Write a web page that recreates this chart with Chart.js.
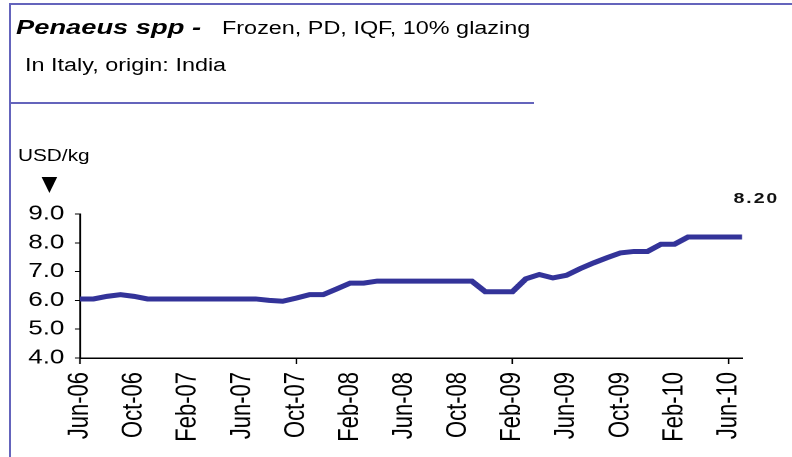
<!DOCTYPE html>
<html>
<head>
<meta charset="utf-8">
<script src="https://cdn.jsdelivr.net/npm/chart.js@4.4.1/dist/chart.umd.min.js"></script>
<style>
    html, body { margin: 0; padding: 0; background: #fff; }
    body { width: 792px; height: 457px; position: relative; overflow: hidden; font-family: "Liberation Sans", Arial, sans-serif; color: #000; }
    /* the original picture is stretched sideways, so the whole panel is drawn narrow and scaled */
    #panel { position: absolute; left: 0; top: 0; width: 609.23px; height: 457px; transform: scaleX(1.3); transform-origin: 0 0; }
    #chartBox { position: absolute; left: 0; top: 0; width: 609.23px; height: 457px; }
    .txt { position: absolute; white-space: nowrap; }
    #title { left: 12.3px; top: 16.2px; font-size: 21px; line-height: 21px; font-weight: bold; font-style: italic; }
    #titleRest { left: 170.8px; top: 18.8px; font-size: 18px; line-height: 18px; }
    #subtitle { left: 19.2px; top: 56.2px; font-size: 18px; line-height: 18px; }
    #unit { left: 13.8px; top: 147.5px; font-size: 16px; line-height: 16px; }
    #arrow { position: absolute; left: 32px; top: 177px; width: 0; height: 0;
             border-left: 6.5px solid transparent; border-right: 6.5px solid transparent; border-top: 16px solid #000; }
    .frame { position: absolute; background: #6464bc; }
</style>
</head>
<body>
<div class="frame" style="left:9px; top:3px; width:2px; height:454px;"></div>
<div class="frame" style="left:9px; top:3px; width:783px; height:2px;"></div>
<div class="frame" style="left:9px; top:102px; width:525px; height:2px;"></div>

<div id="panel">
    <div class="txt" id="title">Penaeus spp -</div>
    <div class="txt" id="titleRest">Frozen, PD, IQF, 10% glazing</div>
    <div class="txt" id="subtitle">In Italy, origin: India</div>
    <div class="txt" id="unit">USD/kg</div>
    <div id="arrow"></div>
    <div id="chartBox"><canvas id="priceChart"></canvas></div>
</div>

<script>
// Monthly prices, Jun-06 .. Jul-10
const months = [
    'Jun-06', 'Jul-06', 'Aug-06', 'Sep-06', 'Oct-06', 'Nov-06', 'Dec-06',
    'Jan-07', 'Feb-07', 'Mar-07', 'Apr-07', 'May-07', 'Jun-07', 'Jul-07', 'Aug-07', 'Sep-07', 'Oct-07', 'Nov-07', 'Dec-07',
    'Jan-08', 'Feb-08', 'Mar-08', 'Apr-08', 'May-08', 'Jun-08', 'Jul-08', 'Aug-08', 'Sep-08', 'Oct-08', 'Nov-08', 'Dec-08',
    'Jan-09', 'Feb-09', 'Mar-09', 'Apr-09', 'May-09', 'Jun-09', 'Jul-09', 'Aug-09', 'Sep-09', 'Oct-09', 'Nov-09', 'Dec-09',
    'Jan-10', 'Feb-10', 'Mar-10', 'Apr-10', 'May-10', 'Jun-10', 'Jul-10'
];
const prices = [
    6.05, 6.05, 6.14, 6.20, 6.14, 6.05, 6.05,
    6.05, 6.05, 6.05, 6.05, 6.05, 6.05, 6.05, 6.00, 5.97, 6.08, 6.20, 6.20,
    6.40, 6.60, 6.60, 6.67, 6.67, 6.67, 6.67, 6.67, 6.67, 6.67, 6.67, 6.30,
    6.30, 6.30, 6.75, 6.90, 6.78, 6.87, 7.10, 7.30, 7.48, 7.65, 7.70, 7.70,
    7.95, 7.95, 8.20, 8.20, 8.20, 8.20, 8.20
];
const yTicks = [4, 5, 6, 7, 8, 9];
const labelEvery = 4;

const FONT = '"Liberation Sans", Arial, sans-serif';

// writes the latest price above the end of the line
const lastValuePlugin = {
    id: 'lastValue',
    afterDatasetsDraw(chart) {
        const meta = chart.getDatasetMeta(0);
        const pt = meta.data[meta.data.length - 1];
        const ctx = chart.ctx;
        ctx.save();
        ctx.font = 'bold 15px ' + FONT;
        ctx.letterSpacing = '1.5px';
        ctx.fillStyle = '#111';
        ctx.textAlign = 'center';
        ctx.textBaseline = 'alphabetic';
        ctx.fillText(prices[prices.length - 1].toFixed(2), pt.x + 11, pt.y - 34);
        ctx.restore();
    }
};

const chart = new Chart(document.getElementById('priceChart'), {
    type: 'line',
    data: {
        labels: months,
        datasets: [{
            data: prices,
            borderColor: '#333399',
            borderWidth: 5,
            pointRadius: 0,
            tension: 0,
            fill: false
        }]
    },
    options: {
        responsive: true,
        maintainAspectRatio: false,
        animation: false,
        devicePixelRatio: 2,
        layout: { padding: { top: 214, right: 38.4, bottom: 0, left: 0 } },
        plugins: {
            legend: { display: false },
            tooltip: { enabled: false },
            title: { display: false }
        },
        scales: {
            x: {
                type: 'category',
                offset: false,
                afterFit: function(scale) { scale.height = 99; },
                border: { display: true, color: '#000', width: 1.5 },
                grid: {
                    display: true,
                    drawOnChartArea: false,
                    drawTicks: true,
                    tickLength: 6,
                    tickWidth: 1.2,
                    tickColor: (c) => c.index % labelEvery === 0 ? '#000' : 'rgba(0,0,0,0)'
                },
                ticks: {
                    autoSkip: false,
                    maxRotation: 90,
                    minRotation: 90,
                    padding: 8,
                    color: '#000',
                    font: { family: FONT, size: 22 },
                    callback: function(value, index) {
                        return index % labelEvery === 0 ? months[index] : null;
                    }
                }
            },
            y: {
                min: yTicks[0],
                max: yTicks[yTicks.length - 1],
                afterFit: function(scale) { scale.width = 61.5; },
                border: { display: true, color: '#000', width: 1.5 },
                grid: {
                    display: true,
                    drawOnChartArea: false,
                    drawTicks: true,
                    tickLength: 4,
                    tickColor: '#000'
                },
                afterBuildTicks: function(scale) {
                    scale.ticks = yTicks.map(v => ({ value: v }));
                },
                ticks: {
                    padding: 8,
                    color: '#000',
                    font: { family: FONT, size: 20 },
                    callback: function(value) { return Number(value).toFixed(1); }
                }
            }
        }
    },
    plugins: [lastValuePlugin]
});
</script>
</body>
</html>
